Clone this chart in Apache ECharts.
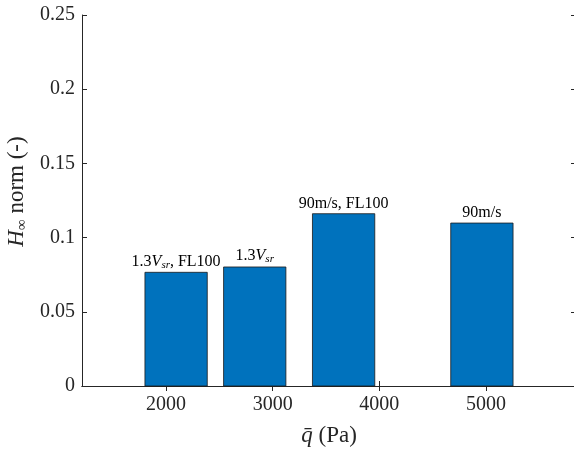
<!DOCTYPE html>
<html>
<head>
<meta charset="utf-8">
<script src="https://cdn.jsdelivr.net/npm/echarts@6/dist/echarts.min.js"></script>
<style>
  html, body { margin: 0; padding: 0; background: #fff; overflow: hidden; }
  #chart { width: 574px; height: 453px; }
</style>
</head>
<body>
<div id="chart"></div>
<script>
// Dynamic pressure of each flight case (Pa) and the resulting H-infinity norm
const qBar = [2095, 2832, 3665, 4961];
const hInfNorm = [0.0766, 0.0802, 0.1161, 0.1098];
// Case annotations written above the bars (rich-text markup)
const caseLabels = [
  '{n|1.3}{v|V}{s|sr}{n|, FL100}',
  '{n|1.3}{v|V}{s|sr}',
  '{n|90m/s, FL100}',
  '{n|90m/s}'
];
const xTicks = [2000, 3000, 4000, 5000];
const yTicks = [0, 0.05, 0.1, 0.15, 0.2, 0.25];

const xMin = 1213, xMax = 5843;
const barWidthPa = 584;   // 0.8 x the smallest spacing between bars
const serif = '"Liberation Serif", "DejaVu Serif", serif';
const axisColor = '#262626';

const chart = echarts.init(document.getElementById('chart'));

const baseX = {
  type: 'value', min: xMin, max: xMax,
  splitLine: { show: false },
  axisLine: { show: true, lineStyle: { color: axisColor, width: 1 } },
  axisTick: { show: true, inside: true, length: 5, customValues: xTicks,
              lineStyle: { color: axisColor } }
};
const baseY = {
  type: 'value', min: 0, max: 0.25, interval: 0.05,
  splitLine: { show: false },
  axisLine: { show: true, lineStyle: { color: axisColor, width: 1 } },
  axisTick: { show: true, inside: true, length: 5, lineStyle: { color: axisColor } }
};

chart.setOption({
  animation: false,
  grid: { left: 82, top: 15, right: -2, bottom: 67, containLabel: false, outerBoundsMode: 'none' },
  xAxis: [
    Object.assign({}, baseX, {
      position: 'bottom',
      axisLabel: {
        show: true, customValues: xTicks, margin: 9,
        color: axisColor, fontFamily: serif, fontSize: 20,
        formatter: v => String(v)
      },
      name: '{i|q\u0304} (Pa)',
      nameLocation: 'middle', nameGap: 38,
      nameTextStyle: {
        color: axisColor, fontFamily: serif, fontSize: 23,
        rich: { i: { fontStyle: 'italic', fontFamily: serif, fontSize: 23, color: axisColor } }
      }
    }),
    Object.assign({}, baseX, { position: 'top', axisLabel: { show: false } })
  ],
  yAxis: [
    Object.assign({}, baseY, {
      position: 'left',
      axisLabel: {
        show: true, margin: 7, color: axisColor, fontFamily: serif, fontSize: 20,
        formatter: v => String(+v.toFixed(2))
      },
      name: '{h|H}{s|\u221E}{n| norm (-)}',
      nameLocation: 'middle', nameRotate: 90, nameGap: 47,
      nameTextStyle: {
        color: axisColor, fontFamily: serif, fontSize: 23,
        padding: [0, 0, 0, 18],
        rich: {
          h: { fontStyle: 'italic', fontFamily: serif, fontSize: 23, color: axisColor },
          s: { fontFamily: serif, fontSize: 15, color: axisColor, padding: [10, 0, 0, 0] },
          n: { fontFamily: serif, fontSize: 23, color: axisColor }
        }
      }
    }),
    Object.assign({}, baseY, { position: 'right', axisLabel: { show: false } })
  ],
  series: [{
    type: 'custom',
    xAxisIndex: 0, yAxisIndex: 0,
    data: qBar.map((q, i) => [q, hInfNorm[i], i]),
    encode: { x: 0, y: 1 },
    renderItem: function (params, api) {
      const q = api.value(0), h = api.value(1), idx = api.value(2);
      const topLeft = api.coord([q - barWidthPa / 2, h]);
      const botRight = api.coord([q + barWidthPa / 2, 0]);
      return {
        type: 'group',
        children: [
          {
            type: 'rect',
            shape: { x: topLeft[0], y: topLeft[1],
                     width: botRight[0] - topLeft[0], height: botRight[1] - topLeft[1] },
            style: { fill: '#0072BD', stroke: '#1a1a1a', lineWidth: 0.8 }
          },
          {
            type: 'text',
            x: (topLeft[0] + botRight[0]) / 2,
            y: topLeft[1] - 2,
            style: {
              text: caseLabels[idx],
              align: 'center', verticalAlign: 'bottom',
              fill: '#000', font: '16px ' + serif,
              rich: {
                n: { fontFamily: serif, fontSize: 16, fill: '#000' },
                v: { fontFamily: serif, fontSize: 16, fontStyle: 'italic', fill: '#000' },
                s: { fontFamily: serif, fontSize: 11, fontStyle: 'italic', fill: '#000',
                     padding: [7, 0, 0, 0] }
              }
            }
          }
        ]
      };
    }
  }]
});
</script>
</body>
</html>
